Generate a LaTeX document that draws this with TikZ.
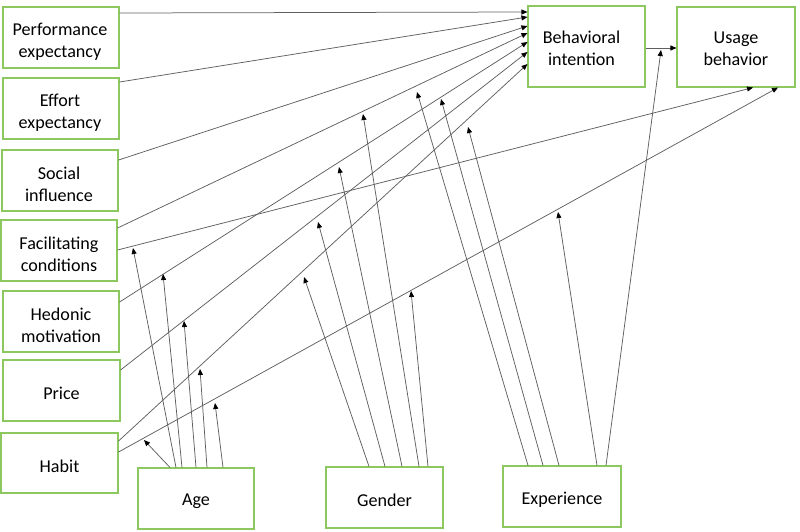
\documentclass[tikz,border=0pt]{standalone}
\usepackage{fontspec}
\setmainfont{Carlito}
\usetikzlibrary{arrows.meta}
\definecolor{boxgreen}{RGB}{140,200,95}
\definecolor{linegray}{RGB}{95,95,95}
\begin{document}
\begin{tikzpicture}[x=1pt,y=-1pt,
  box/.style={draw=boxgreen, line width=1.1pt, rectangle, inner sep=0pt},
  txt/.style={align=center, inner sep=0pt, font=\fontsize{18.1}{21.5}\selectfont},
  conn/.style={draw=linegray, line width=0.75pt, -{Triangle[length=6pt,width=5pt,color=black]}}]
\useasboundingbox (0,0) rectangle (800,531);
% boxes
\node[box, minimum width=116, minimum height=61] (pe) at (61,37.5) {};
\node[box, minimum width=116, minimum height=61] (ee) at (61,108.5) {};
\node[box, minimum width=116, minimum height=61] (si) at (60,180.5) {};
\node[box, minimum width=116, minimum height=61] (fc) at (59,250.5) {};
\node[box, minimum width=116, minimum height=61] (hm) at (61,321.5) {};
\node[box, minimum width=117, minimum height=61] (pr) at (61.5,390.5) {};
\node[box, minimum width=117, minimum height=60] (hb) at (59.5,463) {};
\node[box, minimum width=116, minimum height=61] (age) at (196,498.5) {};
\node[box, minimum width=117, minimum height=61] (gen) at (384.5,497.5) {};
\node[box, minimum width=118, minimum height=61] (exp) at (562,496.5) {};
\node[box, minimum width=117, minimum height=81] (bi) at (586.5,46.5) {};
\node[box, minimum width=118, minimum height=80] (ub) at (736,47) {};
% texts
\node[txt] (pe-t) at ([xshift=-1pt,yshift=-4pt]pe.center) {Performance\\expectancy};
\node[txt] (ee-t) at ([xshift=-1pt,yshift=-4pt]ee.center) {Effort\\expectancy};
\node[txt] (si-t) at ([xshift=-1pt,yshift=-4pt]si.center) {Social\\influence};
\node[txt] (fc-t) at ([yshift=-4pt]fc.center) {Facilitating\\conditions};
\node[txt] (hm-t) at ([yshift=-4pt]hm.center) {Hedonic\\motivation};
\node[txt] (pr-t) at ([yshift=-3pt]pr.center) {Price};
\node[txt] (hb-t) at ([yshift=-3pt]hb.center) {Habit};
\node[txt] (age-t) at ([yshift=-3pt]age.center) {Age};
\node[txt] (gen-t) at ([yshift=-3pt]gen.center) {Gender};
\node[txt] (exp-t) at ([yshift=-3pt]exp.center) {Experience};
\node[txt] (bi-t) at ([xshift=-5pt,yshift=-2pt]bi.center) {Behavioral\\intention};
\node[txt] (ub-t) at ([yshift=-2pt]ub.center) {Usage\\behavior};
% main paths
\draw[conn] (pe.east |- 0,13) -- (bi.west |- 0,12);
\draw[conn] (ee.east |- 0,82) -- (bi.west |- 0,17);
\draw[conn] (si.east |- 0,160) -- (bi.west |- 0,26);
\draw[conn] (fc.east |- 0,228) -- (bi.west |- 0,33);
\draw[conn] (fc.east |- 0,250) -- (ub.south -| 753,0);
\draw[conn] (hm.east |- 0,302) -- (bi.west |- 0,42);
\draw[conn] (pr.east |- 0,370) -- (bi.west |- 0,52);
\draw[conn] (hb.east |- 0,441) -- (bi.west |- 0,64);
\draw[conn] (hb.east |- 0,452) -- (ub.south -| 778,0);
\draw[conn] (bi.east |- 0,48) -- (ub.west |- 0,48);
% moderator targets
\coordinate (ta1) at (144,440);
\coordinate (ta2) at (133,248);
\coordinate (ta3) at (163,274);
\coordinate (ta4) at (184,321);
\coordinate (ta5) at (200,369);
\coordinate (ta6) at (215,403);
\coordinate (tg1) at (304,277);
\coordinate (tg2) at (318,222);
\coordinate (tg3) at (339,167);
\coordinate (tg4) at (363,114);
\coordinate (tg5) at (411,291);
\coordinate (te1) at (417,92);
\coordinate (te2) at (441,99);
\coordinate (te3) at (468,127);
\coordinate (te4) at (558,212);
\coordinate (te5) at (661,50);
% age
\draw[conn] (age.north -| 170,0) -- (ta1);
\draw[conn] (age.north -| 176,0) -- (ta2);
\draw[conn] (age.north -| 182,0) -- (ta3);
\draw[conn] (age.north -| 196,0) -- (ta4);
\draw[conn] (age.north -| 207,0) -- (ta5);
\draw[conn] (age.north -| 223,0) -- (ta6);
% gender
\draw[conn] (gen.north -| 369,0) -- (tg1);
\draw[conn] (gen.north -| 385,0) -- (tg2);
\draw[conn] (gen.north -| 402,0) -- (tg3);
\draw[conn] (gen.north -| 419,0) -- (tg4);
\draw[conn] (gen.north -| 428,0) -- (tg5);
% experience
\draw[conn] (exp.north -| 528,0) -- (te1);
\draw[conn] (exp.north -| 543,0) -- (te2);
\draw[conn] (exp.north -| 559,0) -- (te3);
\draw[conn] (exp.north -| 597,0) -- (te4);
\draw[conn] (exp.north -| 606,0) -- (te5);
\end{tikzpicture}
\end{document}
